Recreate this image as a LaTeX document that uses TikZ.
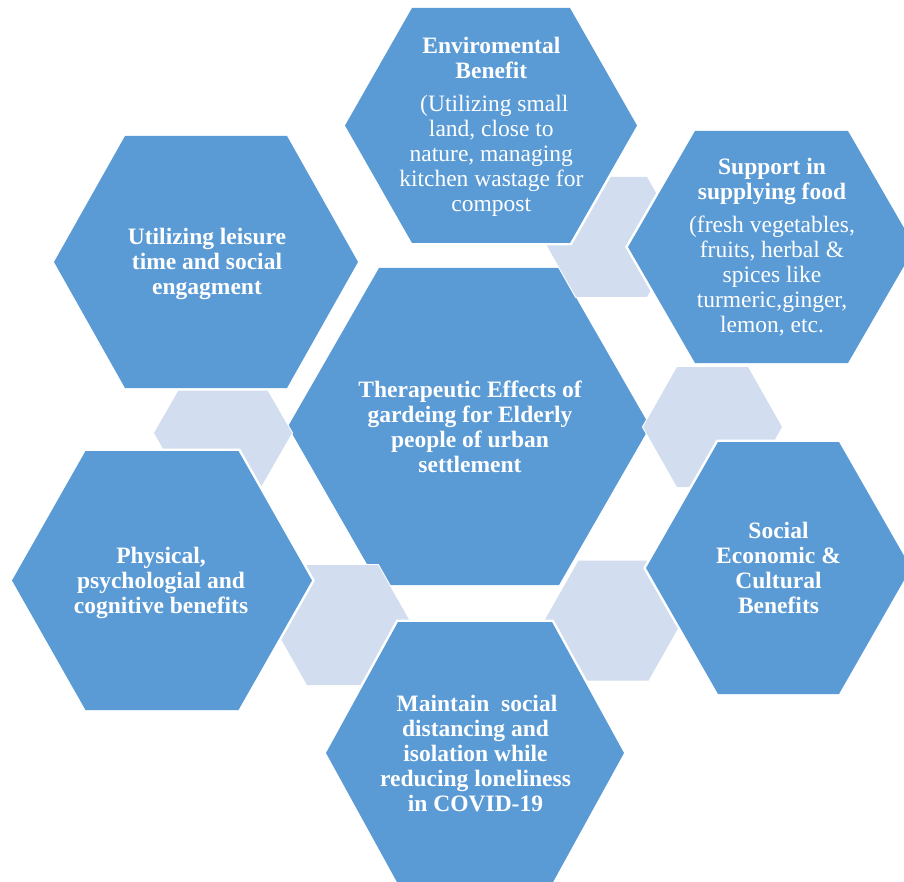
\documentclass[tikz,border=0pt]{standalone}
\usepackage{fontspec}
\setmainfont{Liberation Serif}
\definecolor{hexblue}{HTML}{5B9BD5}
\definecolor{hexlight}{HTML}{D2DEEF}
\tikzset{
  bluehex/.style={fill=hexblue, preaction={draw=white, line width=5pt, line join=miter}},
  lighthex/.style={fill=hexlight, preaction={draw=white, line width=2pt, line join=miter}},
  centerhex/.style={fill=hexblue},
  lblb/.style={text=white, inner sep=0pt, anchor=base, font=\bfseries\fontsize{23.5}{25}\selectfont},
  lblr/.style={text=white, inner sep=0pt, anchor=base, font=\fontsize{23.5}{25}\selectfont},
}
% style, cx, cy, half width, half top edge, half height
\newcommand{\hexagonat}[6]{\path[#1] (#2-#4,#3) -- (#2-#5,#3-#6) -- (#2+#5,#3-#6) -- (#2+#4,#3) -- (#2+#5,#3+#6) -- (#2-#5,#3+#6) -- cycle;}
\begin{document}
\begin{tikzpicture}[x=1pt,y=-1pt]
\useasboundingbox (0,0) rectangle (904,882);
\clip (0,0) rectangle (904,882);
% central hexagon
\hexagonat{centerhex}{469}{426.5}{181}{90}{158.5}
% light connector hexagons
\hexagonat{lighthex}{611.5}{237}{69.5}{35.5}{60}
\hexagonat{lighthex}{712.5}{427}{69.5}{35.5}{60}
\hexagonat{lighthex}{613.5}{620.5}{69}{35}{60}
\hexagonat{lighthex}{342.5}{625}{69.5}{35.5}{60}
\hexagonat{lighthex}{223}{433}{69}{34.5}{60}
% outer hexagons
\hexagonat{bluehex}{491}{125.5}{146}{79}{117.5}
\hexagonat{bluehex}{771.5}{247}{143.5}{76.5}{116}
\hexagonat{bluehex}{206}{262}{152}{81}{126}
\hexagonat{bluehex}{162}{580.5}{150}{76.5}{129.5}
\hexagonat{bluehex}{778.5}{568}{132.5}{60.5}{126}
\hexagonat{bluehex}{475}{753}{149}{77}{131}
% texts
\node[lblb] (centertxt) at (470,397) {\begin{tabular}[t]{@{}c@{}}Therapeutic Effects of\\gardeing for Elderly\\people of urban\\settlement\end{tabular}};
\node[lblb] (envtitle) at (491.3,54) {\begin{tabular}[t]{@{}c@{}}Enviromental\\Benefit\end{tabular}};
\node[lblr] (envbody) at (491.3,112) {\begin{tabular}[t]{@{}c@{}}\hspace{6pt}(Utilizing small\\land, close to\\nature, managing\\kitchen wastage for\\compost\end{tabular}};
\node[lblb] (foodtitle) at (772,175) {\begin{tabular}[t]{@{}c@{}}Support in\\supplying food\end{tabular}};
\node[lblr] (foodbody) at (772,233) {\begin{tabular}[t]{@{}c@{}}(fresh vegetables,\\fruits, herbal \&\\spices like\\turmeric,ginger,\\lemon, etc.\end{tabular}};
\node[lblb] (leisure) at (207,245) {\begin{tabular}[t]{@{}c@{}}Utilizing leisure\\time and social\hspace{6pt}\\engagment\end{tabular}};
\node[lblb] (physical) at (161,563) {\begin{tabular}[t]{@{}c@{}}Physical,\\psychologial and\\cognitive benefits\end{tabular}};
\node[lblb] (social) at (778.5,538) {\begin{tabular}[t]{@{}c@{}}Social\\Economic \&\\Cultural\\Benefits\end{tabular}};
\node[lblb] (covid) at (475.5,711) {\begin{tabular}[t]{@{}c@{}}\hspace{3pt}Maintain\ \ social\\distancing and\\isolation while\\reducing loneliness\\in COVID-19\end{tabular}};
\end{tikzpicture}
\end{document}
